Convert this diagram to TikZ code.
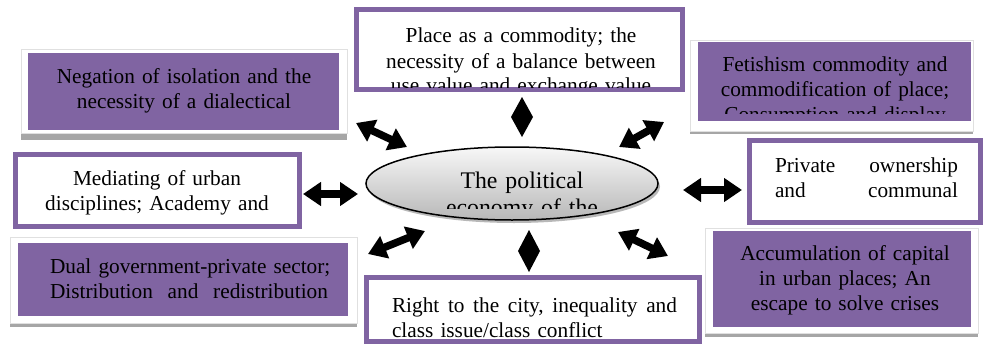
\documentclass[tikz,border=0pt]{standalone}
\usepackage{fontspec}
\setmainfont{Liberation Serif}
\usetikzlibrary{arrows.meta,shapes.geometric,shadows}
\definecolor{boxpurple}{HTML}{8064A2}
\begin{document}
\begin{tikzpicture}[x=1pt,y=-1pt,
  txt/.style={font=\fontsize{21.3}{25}\selectfont, inner sep=0pt, outer sep=0pt, anchor=base, text=black},
  bigtxt/.style={txt, font=\fontsize{23.8}{27}\selectfont},
  shadowbar/.style={fill=black!35, draw=none},
  whiteframe/.style={rectangle, fill=white, draw=black!12, line width=0.4pt, inner sep=0pt, outer sep=0pt},
  purplebox/.style={rectangle, fill=boxpurple, draw=none, inner sep=0pt, outer sep=0pt},
  borderbox/.style={rectangle, fill=white, draw=boxpurple, line width=5pt, inner sep=0pt, outer sep=0pt},
  dbl/.style={line width=7.5pt, {Triangle[length=18pt,width=23pt]}-{Triangle[length=18pt,width=23pt]}},
  diam/.style={fill=black},
]
\useasboundingbox (0,0) rectangle (984,345);
\fill[white] (0,0) rectangle (984,345);

% ---------- top left (purple) ----------
\fill[shadowbar] (21,56) rectangle (347,140);
\node[whiteframe, minimum width=326, minimum height=84] (tlf) at (184,91) {};
\node[purplebox, minimum width=311, minimum height=77] (tl) at (183.5,91.5) {};
\node[txt, text width=310, align=center] (tlt) at (184,83) {Negation of isolation and the\\necessity of a dialectical};

% ---------- top right (purple) ----------
\fill[shadowbar] (690,48) rectangle (973,134);
\node[whiteframe, minimum width=283, minimum height=91] (trf) at (831.5,85.5) {};
\node[purplebox, minimum width=273, minimum height=79] (tr) at (834.5,81.5) {};
\begin{scope}
\clip (698,42) rectangle (971,113);
\node[txt, text width=272, align=center] (trt) at (835,71) {Fetishism commodity and\\commodification of place;\\Consumption and display};
\end{scope}

% ---------- bottom left (purple) ----------
\fill[shadowbar] (10,245) rectangle (357,327);
\node[whiteframe, minimum width=347, minimum height=86] (blf) at (183.5,280) {};
\node[purplebox, minimum width=330, minimum height=73] (bl) at (183,279.5) {};
\node[txt, text width=278, align=left] (blt) at (189,273) {\makebox[278pt][l]{Dual government-private sector;}\\\makebox[278pt]{Distribution\hfill and\hfill redistribution}};

% ---------- bottom right (purple) ----------
\fill[shadowbar] (705,236) rectangle (978,337);
\node[whiteframe, minimum width=273, minimum height=105] (brf) at (841.5,280.5) {};
\node[purplebox, minimum width=258, minimum height=96] (br) at (842,279) {};
\node[txt, text width=256, align=center] (brt) at (845,260) {Accumulation of capital\\in urban places; An\\escape to solve crises};

% ---------- white boxes with purple border ----------
\node[borderbox, minimum width=326, minimum height=80] (tc) at (519.5,49.5) {};
\begin{scope}
\clip (359,12) rectangle (680,87);
\node[txt, text width=320, align=center] (tct) at (521,43) {Place as a commodity; the\\necessity of a balance between\\use value and exchange value};
\end{scope}

\node[borderbox, minimum width=284, minimum height=72] (ml) at (157.5,190.5) {};
\node[txt, text width=280, align=center] (mlt) at (157,185) {Mediating of urban\\disciplines; Academy and};

\node[borderbox, minimum width=231, minimum height=82] (mr) at (865,181.5) {};
\node[txt, text width=183, align=left] (mrt) at (866.5,172) {\makebox[183pt]{Private\hfill ownership}\\\makebox[183pt]{and\hfill communal}};

\node[borderbox, minimum width=333, minimum height=64] (bc) at (533,309.5) {};
\begin{scope}
\clip (369,280) rectangle (697,339);
\node[txt, text width=285, align=left] (bct) at (534.5,312) {\makebox[285pt]{Right\hfill to\hfill the\hfill city,\hfill inequality\hfill and}\\class issue/class conflict};
\end{scope}

% ---------- centre ellipse ----------
\node[ellipse, minimum width=292, minimum height=73, draw=black, line width=1.5pt,
      top color=black!3, bottom color=black!28, inner sep=0pt,
      drop shadow={shadow xshift=2pt, shadow yshift=-3pt, fill=black!55}] (ctr) at (512,183.5) {};
\begin{scope}
\clip (365,140) rectangle (660,208);
\node[bigtxt, text width=280, align=center] (ctrt) at (522,188) {The political\\economy of the};
\end{scope}

% ---------- arrows ----------
\coordinate (aTLa) at (356,123); \coordinate (aTLb) at (407,147);
\coordinate (aTRa) at (619,147); \coordinate (aTRb) at (664,122);
\coordinate (aBLa) at (368,254); \coordinate (aBLb) at (425,231);
\coordinate (aBRa) at (618,232); \coordinate (aBRb) at (668,256);
\coordinate (aLa) at (303,194); \coordinate (aLb) at (358,194);
\coordinate (aRa) at (683,190); \coordinate (aRb) at (742,190);
\draw[dbl] (aTLa) -- (aTLb);
\draw[dbl] (aTRa) -- (aTRb);
\draw[dbl] (aBLa) -- (aBLb);
\draw[dbl] (aBRa) -- (aBRb);
\draw[dbl] (aLa) -- (aLb);
\draw[dbl] (aRa) -- (aRb);

\coordinate (dTa) at (522,97); \coordinate (dTb) at (522,137);
\coordinate (dBa) at (529,230); \coordinate (dBb) at (529,272);
\fill[diam] (dTa) -- ++(11,20) -- (dTb) -- ++(-11,-20) -- cycle;
\fill[diam] (dBa) -- ++(11,21) -- (dBb) -- ++(-11,-21) -- cycle;
\end{tikzpicture}
\end{document}
